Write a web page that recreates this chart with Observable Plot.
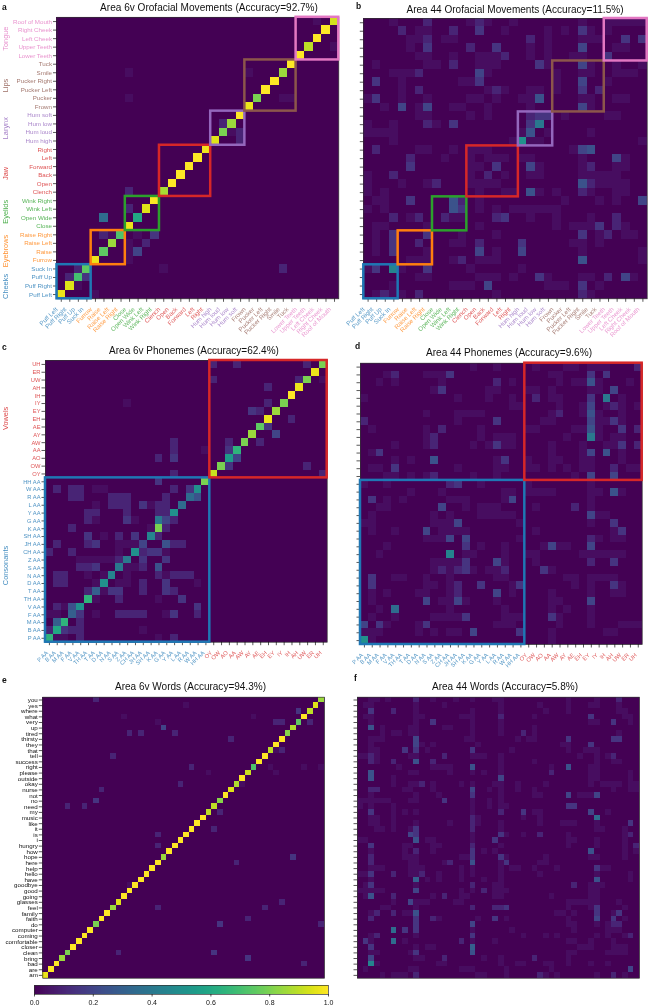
<!DOCTYPE html>
<html><head><meta charset="utf-8">
<script src="https://cdn.jsdelivr.net/npm/d3@7"></script>
<script src="https://cdn.jsdelivr.net/npm/@observablehq/plot@0.6"></script>
<style>
html,body{margin:0;padding:0;background:#fff}
#page{position:relative;width:648px;height:1007px;overflow:hidden;font-family:"Liberation Sans",Arial,sans-serif;color:#111;filter:blur(.3px)}
#page svg{position:absolute;overflow:visible;background:transparent}
.t{position:absolute;font-size:10.4px;white-space:nowrap;transform:translate(-50%,-50%)}
.l{position:absolute;font-size:8.5px;font-weight:bold;transform:translate(0,-50%)}
</style></head><body><div id="page"></div>
<script>
const orofacial=["Puff Left","Puff Right","Puff Up","Suck In","Furrow","Raise","Raise Left","Raise Right","Close","Open Wide","Wink Left","Wink Right","Clench","Open","Back","Forward","Left","Right","Hum high","Hum loud","Hum low","Hum soft","Frown","Pucker","Pucker Left","Pucker Right","Smile","Tuck","Lower Teeth","Upper Teeth","Left Cheek","Right Cheek","Roof of Mouth"];
// name, first, end, colour, label centre
const orofacialGroups=[["Cheeks",0,4,"#1f77b4",1.45],["Eyebrows",4,8,"#ff7f0e",5.6],["Eyelids",8,12,"#2ca02c",10.2],["Jaw",12,18,"#d62728",14.7],["Larynx",18,22,"#9467bd",20],["Lips",22,28,"#8c564b",25],["Tongue",28,33,"#e377c2",30.5]];
const phonemes=["P AA","B AA","M AA","F AA","V AA","TH AA","T AA","D AA","N AA","S AA","Z AA","CH AA","JH AA","SH AA","K AA","G AA","Y AA","L AA","R AA","W AA","HH AA","OY","OW","AO","AA","AW","AY","AE","EH","EY","IY","IH","AH","UW","ER","UH"];
const phonemeGroups=[["Consonants",0,21,"#1f77b4",9.8],["Vowels",21,36,"#d62728",28.6]];
const words=["am","are","bad","bring","clean","closer","comfortable","coming","computer","do","faith","family","feel","glasses","going","good","goodbye","have","hello","help","here","hope","how","hungry","i","is","it","like","music","my","need","no","not","nurse","okay","outside","please","right","success","tell","that","they","thirsty","tired","up","very","what","where","yes","you"];

// diagonals, listed in label order
const aDiag=[.97,.95,.7,.75,.97,.75,.85,.72,.97,.6,.95,1,.87,1,1,1,1,.98,.95,.8,.85,1,.97,.8,1,1,.85,1,1,.9,1,1,.93];
const cDiag=[.65,.6,.65,.3,.5,.65,.3,.5,.45,.4,.4,.5,.2,.45,.8,.2,.5,.35,.35,.5,.8,.92,.8,.55,.65,.8,.85,.75,.97,.85,.8,1,.97,.8,.97,.8];
const eDiag=[.97,1,1,.85,.8,1,1,1,1,.8,1,1,.85,.95,1,1,1,1,1,1,1,.85,1,1,1,1,1,1,1,.9,.9,.82,1,.95,.88,1,.92,.72,1,1,.9,1,1,.82,.88,.75,1,.9,.95,.85];

// remaining cells, one string per row from the top: "column:level" (no level = 1)
const aRows=["30","","","32","","","8 22","","","8 26 27","","","19:2","20 21:2","21:2","","","","","","8:2","","8:2","5:7","","5:2 6 9 11:3","8 10:2","8 9:4","8","2:2 12 26:2","1:2 3:3","2","4"];
const bRows=["3 7:2 12 13:2 14 17 25 28 29 30 31 32","4:2 6 7 10:2 13:3 16 21 23 25:3 26 28","5 6 7:2 9 10 19:2 21 25 26 27 30:3 32:3","5 7:3 12:2 15:3 19 21 25:4 29 30","6 7 10 13 14 15 16:2 19 21 24 25 28:3","1 7 8 10:2 13 14 15 20:3 21 25:4 26 29 32","3 4 5 6:2 13:4 14 22 25 26 29 30 31","1:3 4 11 12 13:3 22 25:4 28","4 6:2 14 15:2 16 19 20 22 25:3 27:2","0 1:3 4 7 12 13 15 18 19 20:5 25 26 29 30","2 4:4 6 7:4 10 11 14 19 25:4 26","6 7 12 14 19:2 20:3 21:3 23 28 29","0 3 7:2 8 10:3 19:3 20:8","0 1 2 3 18 19:5 21 26","3 17 18:10 19 20 32","1:2 6 7 10 12 13 14 24 25:4 26:5","5:2 9 12 14 15 16 18 19 25 29:4 30","5:3 12 13 15:3 19:4 20 25 26:2 29 30","0 3:2 12 14:2 16 19 20 25 26 27 28 29","0 4 7 8:2 12 13 14 15 25:5 26:2 27 28 29 30","0 2 13 16 17 19:5 20 22 25:2 26 29 30","1 2 5:3 10:5 11:2 13 23 27 29 32:4","0 2 10:5 11:3 13 15 17 18 19 20 21 22","3:2 5 6:2 9:2 10 11 15:2 16:3 19 22 26 29:2","1 2 7 13 22 24 25 26 27:3 29:2 30","1 3:3 7:3 11 15 25:3 27 28:2 30 31","1 3:3 6:2 10 11 13:2 18:3 24 25 27","1 3:3 7 13:4 15 18:4 25 32","5 6 7 10 11:2 13 14 15 25:5 32","0 1:3 3:9 4 7:3 12 18","6 7 13 14 15 17 20:3 21 25 26 28:2 30:4 31","3 10 11 12 14:4 21 22 23 25:3 27","1 2:2 3 4 6:2 15 25:2 26"];
const cRows=["21:2 24:2 33:2","","21:2 32:2 35","28:2","","10 28:2","26:3 27:2","31:2","28:3","29:4","16:2 23:2 27:2","16:2 20 23:3","14:2 16:3 24:4","23:3 33:2","16:2 35:2","14:3","1:2 3:2 4:2 6 7 16:2 18:3","3:2 4:2 8:2 9:2 10:2 15:2 19:5","6 8:2 9:2 10:2 12:3 13 14:2 15:2","5:2 6:2 10:2 14:2 15:2","5:2 6 10:3 11 14:8 16:2","3:2 13 15:2","5:3 7 9:2 11:3 14:2","1:2 5:2 6:3 9 10 11 15:5 16:2 17:2","0:2 3:2 9 12:2 13:3 14:3 15","4 5 6 7 8 9:2 12:3 15:3","4:2 5:2 6:3 10 11 12:2 14:5","1:2 2:2 5 7 10 14:2 15 16:2 17:2 18:2","1:2 2:2 6 9 10 12:2 15:3 19","5:2 7 8:3 9:3 12:2 15:3 16:2","6 9:2 14 17:3","1:2 2 3:5 19:3","0 1 4:3 6 9:2 10:2 11:2 12:2 15 16:3 19:2","1:6 4:2","0:2 2:3 3:2 4:2 12","1 2 4:2 14 16:2"];
const dRows=["14 17 22 26 27 29 30 31 35:2","3 4:2 8 9 10 11:3 24 25 29:3 31:3","2 4 10 17:2 19 25 27 28 29:5 30 34","9 10:3 16 17 21 22 24 29 30 32:4","0 12 16 19 22:2 24 25 29:3 31:8 33","19 20 25 28 29:4 31 32:2 33 35","8 12 13 14 15 24 25:2 28 29:5 30 33","0:2 12 17:3 23 24 29:4 30 31 32:3 33","1 8 10:2 15 21 22 27 28 29:5 30 33:3 35:2","8 9:2 15 17 18 19 26 29:8 30 32 33","4 8 9:2 14 16 17:3 18 19 24 28 31 32 33:3 35:2","1 2:3 24 28 29:4 31:5 33","4 6 9:5 17 18:3 21 24 25 28 29 33","1 2 4:3 12 17 18 21 22 24 26 28 29 32:2 34 35","3 4 6 8 9:2 14 17 27 29:4 32:4","0 3 11:2 12:3 15 21 29","6 10 18 19 21 22 23 24 29 30 32:5 33","1:3 3 5 11 12 13 18 19:4 29","2 3 10:4 13 15 16 17 22 27:2 29","1 9 11 15 16 17 18 19 29:4 30 31","0 1 9 10 11 12:4 20 29 32:3","1 4 8:4 10 11 12 13 22 32 33:3","8 9 10 11:4 13:4 20 29:2 30 32 33","3 13:3 15 18 23 24:4 25 26 29:4","2 11:9 13 14 18 21 22 28 29 30 31 32 33","9 10 11 12 13:3 17:4 18 22 29:2 32:3","9 10:2 11 12:2 13:3 14 16 17 18:2 23:3 24","1:3 4 5 8 11 17 18 26 27 29 30 31 32","1:3 8 9 11 12:2 15:3 19 20:3 27 29 32:3 33","1 3 7 8 11 12:2 17:4 19 24 29 32 33","1 8:4 10 11 12:4 13 17 24 25 29:4","2 4:7 11 18 24 26 29","1 4 9 10 11 12 13:3 18 19 20 24:3 25 29","0:4 2:3 3 7 8:3 17 18 19 25 29 33 34 35","0 1 2 7 9 11 12 14:4 20:3 24 31 32","0:10 1 24"];
const eRows=["9:2","25","45:3","14 37","20 41:2 42:2 47:2","21:4","15:2 17:2 23:2","33:2","","42:2 41","12:2","","26:2 40 46 49","29 41","","24:2 35","10:2","","9:3","4:2 7:2","31:2","","","30:2","20:2","","20:2","","44:3","34:2","","","","15","","","42:2","20:2 39:2","","36:2","31:3 49:2","","","","","13:2 30:3","36:3","46:2","",""];
const fRows=["2 3 5 10:2 13 17 20 24 25 37 42 46:2","1 2 10 15 25 32 37 41 42 46","2:3 6:2 10 20 25 33 37 46 47","1 2 10 11 18 19 20 25:2 31 41:3 47 48","2 10 13:3 20 25 41 42 45:3 48","2:5 4 9 10 15 16 20 25 31","4 6 7 9 10 20 25 29:2 31 46","2 3 4 10:4 19 20 28 30 31 37:3 45:3 46:3","2 10:4 11 13 21 36 37 41:3","2 3 8:3 10:3 12 20:3 27 37 40 41 42","0 1 2:2 3 9 10 15:2 20 21 22 25 39 42 44 45:2","2:2 3 6:2 10:5 13:2 25 31 42 45 46","7 13 14 15 16 20:5 25 34 37:5 41 42","2:5 9 10 16 20 22 25 34:2 41 42 48","2:5 6 25:4 41 42 48","6 9 10 11:2 13 18 20 24 25 28 33 41 43 44 45 46 48 49","2:2 3:2 8 9 13 20:4 23 25 28 31 45 48 49","2 10 14 20:3 25 31 32 37:4 39 40 41 42:4","0 1 2 3 4 5 9 10 15:3 20 23 25","0 2 6 20 23 25 26 37:3 38:3","2:3 6 8 10 20 25:2 29:3 31 32 41:4 44","2 3 6 20:2 21 29 32 42:7","2 3 6 10 16 20:2 21 25 32 36 37 38 42 48:3","3 4 6 9 10:3 20:2 25 42 43 47","9:4 10:3 20 25:3 26 29 32:2 37 47 48:2","0 1 10:5 12 13 20 24:3 37 38 42 47","2:3 8 9 13 14 20:2 25 37 42 47 49:2","2 8 10:2 13 20:3 22 24 41:5 47 49","2:2 8 9 10 18 19 20:3 25:3 26 33 41 42 47","2:2 9 10 15 16:2 20:5 25 26:3 32 33","2 3 4 9 10 11 18 20 25 27 28 31 35 42:3 43 44","0 1 2:3 6:2 9 10 11:2 14 18 20 25 32 42 48","2 10:6 12 14 18 22 25 42:5 48","1 2:3 10 20:2 24 25 38:2 41 42 43","0 1 2 3 4 10:4 18 20 22:2 24 25 26 41 42","1 2:5 6:2 13 15:2 18 19 24 25 34 41 42","6 9:4 10 11 12 17 18 37 38 39 40 41 42 46","4 5 10 20:2 24:2 25:2 26:3 37 41 42:3 47","2 3:2 6:2 8 9 10:5 35 36 38 42:3 45 46:3","2:2 10:3 13:2 14 21 24:3 26 37 42:4 45:3 47","10:3 20:4 37 38 42 44 45:2 46:2","6:7 8:3 10:3 20 27 38 44 45 46","2 3:2 10 20:3 29 33 35 42 44 47 48:2","1:3 2 6:7 8 18:2 20 24 37 38 41 45","2:3 10 12 13 20:6 39 40 41 45 46 47","2 3 9 10:3 20:5 37 38 44 45 46 47","2:4 10 11 15:2 22 25 31:2 37","2:9 3 14 15 25 28 29 33 34 37 41 44","1 9 10 18 19 20 26 34 48:4","4 6 7 8 10:2 21 22 26 32:2 33 35 42 45:2 47"];

const font='"Liberation Sans",Arial,sans-serif';
const levelValue=v=>v===1?.035:v*.05;
function matrix(labels,diag,rows){
  const n=labels.length, cells=new Map();
  rows.forEach((s,i)=>{const r=n-1-i;s.trim().split(/\s+/).filter(Boolean).forEach(t=>{const [c,v]=t.split(":");cells.set(r+"_"+c,levelValue(v===undefined?1:+v))})});
  if(diag) diag.forEach((v,i)=>cells.set(i+"_"+i,v));
  const out=[];for(let r=0;r<n;r++)for(let c=0;c<n;c++)out.push({r,c,v:cells.get(r+"_"+c)||0});
  return out;
}
const page=document.getElementById("page");
function panel(o){
  const {labels,diag,rows,groups,box,xLabels,yLabels,title,titleW,letter,titleX,titleY,letterX,letterY,groupX,fs=6.2,xdx=-3}=o;
  const n=labels.length, ticks=d3.range(n).map(i=>i+.5), left=Math.floor(box[0]-60), top=Math.floor(box[2]-4);
  const colorOf=t=>{const i=t-.5;const g=(groups||[]).find(g=>i>=g[1]&&i<g[2]);return g?g[3]:"#111"};
  const marks=[
    Plot.frame({fill:"#440154"}),
    Plot.rect(matrix(labels,diag,rows),{x1:"c",x2:d=>d.c+1,y1:"r",y2:d=>d.r+1,fill:"v",shapeRendering:"crispEdges"}),
    Plot.frame({stroke:"#333",strokeWidth:.7}),
    Plot.axisY(ticks,{anchor:"left",label:null,tickSize:3.5,tickPadding:1.5,fontSize:fs,stroke:"#111",strokeWidth:.7,fill:yLabels?colorOf:"#111",fillOpacity:groups?.8:1,tickFormat:yLabels?(d=>labels[d-.5]):(()=>"")})
  ];
  if(xLabels) marks.push(
    Plot.axisX(ticks,{anchor:"bottom",label:null,tickSize:3.5,stroke:"#111",strokeWidth:.7,tickFormat:()=>""}),
    Plot.text(ticks,{x:d=>d,frameAnchor:"bottom",dy:11,dx:xdx,rotate:-45,textAnchor:"end",fontSize:fs,fill:colorOf,fillOpacity:.75,text:d=>labels[d-.5]})
  );
  if(groups){
    marks.push(Plot.rect(groups,{x1:d=>d[1],x2:d=>d[2],y1:d=>d[1],y2:d=>d[2],stroke:d=>d[3],fill:"none",strokeWidth:2.5}));
    if(groupX!==undefined) marks.push(Plot.text(groups,{x:0,y:d=>d[4],dx:groupX-box[0],text:d=>d[0],rotate:-90,fill:d=>d[3],fontSize:7.4,fillOpacity:.85}));
  }
  const svg=Plot.plot({width:box[1]-left+8,height:box[3]-top+50,marginLeft:box[0]-left,marginRight:8,marginTop:box[2]-top,marginBottom:50,
    x:{domain:[0,n],axis:null},y:{domain:[0,n],axis:null},
    color:{type:"linear",scheme:"viridis",domain:[0,1]},
    style:{fontFamily:font,background:"transparent",overflow:"visible"},marks});
  svg.style.left=left+"px";svg.style.top=top+"px";page.appendChild(svg);
  const t=document.createElement("div");t.className="t";t.textContent=title;t.style.left=titleX+"px";t.style.top=titleY+"px";page.appendChild(t);
  t.style.fontSize=(10.4*titleW/t.getBoundingClientRect().width)+"px";
  const l=document.createElement("div");l.className="l";l.textContent=letter;l.style.left=letterX+"px";l.style.top=letterY+"px";page.appendChild(l);
}
panel({labels:orofacial,diag:aDiag,rows:aRows,groups:orofacialGroups,box:[56.5,338.3,16.8,298.3],xLabels:true,yLabels:true,title:"Area 6v Orofacial Movements (Accuracy=92.7%)",titleW:218,letter:"a",titleX:209,titleY:7,letterX:2,letterY:7,groupX:5});
panel({labels:orofacial,rows:bRows,groups:orofacialGroups,box:[363.3,646.7,18,298.3],xLabels:true,yLabels:false,title:"Area 44 Orofacial Movements (Accuracy=11.5%)",titleW:217,letter:"b",titleX:515,titleY:8.5,letterX:356,letterY:6});
panel({labels:phonemes,diag:cDiag,rows:cRows,groups:phonemeGroups,box:[45,326.7,360,641.7],xLabels:true,yLabels:true,title:"Area 6v Phonemes (Accuracy=62.4%)",titleW:170,letter:"c",titleX:194,titleY:350,letterX:2,letterY:347,groupX:5,fs:5.8,xdx:-1});
panel({labels:phonemes,rows:dRows,groups:phonemeGroups,box:[360,641.7,362.7,644],xLabels:true,yLabels:false,title:"Area 44 Phonemes (Accuracy=9.6%)",titleW:166,letter:"d",titleX:509,titleY:352,letterX:355,letterY:346,fs:5.8,xdx:-1});
panel({labels:words,diag:eDiag,rows:eRows,box:[42.3,324,696.7,977.7],xLabels:false,yLabels:true,title:"Area 6v Words (Accuracy=94.3%)",titleW:151,letter:"e",titleX:190.5,titleY:685.5,letterX:2,letterY:680});
panel({labels:words,rows:fRows,box:[357,639,696.7,977.7],xLabels:false,yLabels:false,title:"Area 44 Words (Accuracy=5.8%)",titleW:146,letter:"f",titleX:505,titleY:685.5,letterX:354,letterY:678});

// colour bar
const barStops=d3.range(256).map(i=>i/256);
const bar=Plot.plot({width:312,height:24,marginLeft:12,marginRight:6,marginTop:2,marginBottom:13,
  x:{domain:[0,1],axis:null},y:{domain:[0,1],axis:null},color:{type:"linear",scheme:"viridis",domain:[0,1]},
  style:{fontFamily:font,background:"transparent",overflow:"visible"},
  marks:[Plot.rect(barStops,{x1:d=>d,x2:d=>d+1/256+.001,y1:0,y2:1,fill:d=>d,shapeRendering:"crispEdges"}),
    Plot.frame({stroke:"#333",strokeWidth:.7}),
    Plot.axisX([0,.2,.4,.6,.8,1],{anchor:"bottom",label:null,tickSize:2.5,tickPadding:3.5,fontSize:7,stroke:"#111",strokeWidth:.7,fill:"#111",tickFormat:d3.format(".1f")})]});
bar.style.left="22px";bar.style.top="982.5px";page.appendChild(bar);
</script></body></html>
